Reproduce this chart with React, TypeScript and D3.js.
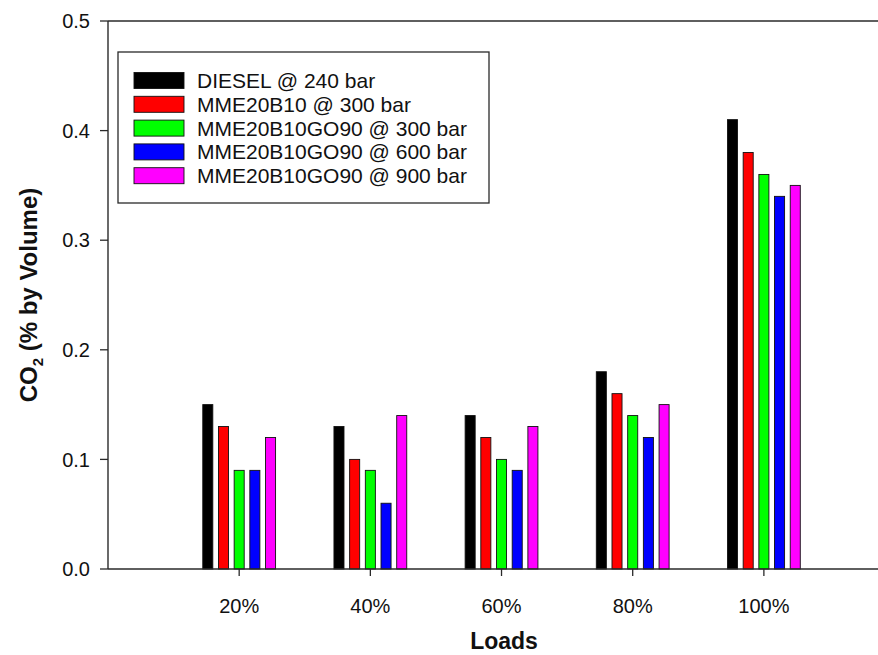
import React from "react";
import * as d3 from "d3";

const categories = ["20%", "40%", "60%", "80%", "100%"];
const seriesNames = [
  "DIESEL @ 240 bar",
  "MME20B10 @ 300 bar",
  "MME20B10GO90 @ 300 bar",
  "MME20B10GO90 @ 600 bar",
  "MME20B10GO90 @ 900 bar",
];
const seriesColors = ["#000000", "#ff0000", "#00ff00", "#0000ff", "#ff00ff"];
const diesel240 = [0.15, 0.13, 0.14, 0.18, 0.41];
const mme300 = [0.13, 0.1, 0.12, 0.16, 0.38];
const go90_300 = [0.09, 0.09, 0.1, 0.14, 0.36];
const go90_600 = [0.09, 0.06, 0.09, 0.12, 0.34];
const go90_900 = [0.12, 0.14, 0.13, 0.15, 0.35];
const seriesValues = [diesel240, mme300, go90_300, go90_600, go90_900];
const yTicks = [0, 0.1, 0.2, 0.3, 0.4, 0.5];

const W = 878;
const H = 655;
const font = "'Liberation Sans', Arial, sans-serif";

export default function App() {
  const x = d3.scaleLinear().domain([0, 5.87]).range([108, 878]);
  const y = d3.scaleLinear().domain([0, 0.5]).range([569, 21]);
  const inner = d3
    .scaleBand<number>()
    .domain(d3.range(seriesNames.length))
    .range([-36.4, 36.4])
    .paddingInner(0.36)
    .paddingOuter(0);
  const axisColor = "#2a2a2a";

  return (
    <svg
      width={W}
      height={H}
      style={{ position: "absolute", left: 0, top: 0, background: "#fff" }}
      fontFamily={font}
    >
      {/* bars */}
      {categories.map((c, ci) =>
        seriesValues.map((vals, si) => (
          <rect
            key={c + si}
            x={x(ci + 1) + (inner(si) as number)}
            y={y(vals[ci])}
            width={inner.bandwidth()}
            height={y(0) - y(vals[ci])}
            fill={seriesColors[si]}
            stroke="#111"
            strokeWidth={0.9}
          />
        ))
      )}
      {/* frame */}
      <line x1={108} x2={878} y1={y(0)} y2={y(0)} stroke={axisColor} strokeWidth={1.4} />
      <line x1={108} x2={878} y1={y(0.5)} y2={y(0.5)} stroke={axisColor} strokeWidth={1.6} />
      <line x1={108} x2={108} y1={y(0.5)} y2={y(0)} stroke={axisColor} strokeWidth={1.4} />
      {/* y ticks */}
      {yTicks.map((t) => (
        <g key={t}>
          <line x1={100} x2={108} y1={y(t)} y2={y(t)} stroke={axisColor} strokeWidth={1.3} />
          <text
            x={90}
            y={y(t)}
            dy="0.36em"
            textAnchor="end"
            fontSize={20}
            fill="#111"
          >
            {t.toFixed(1)}
          </text>
        </g>
      ))}
      {/* x ticks */}
      {categories.map((c, ci) => (
        <g key={c}>
          <line
            x1={x(ci + 1)}
            x2={x(ci + 1)}
            y1={y(0)}
            y2={y(0) + 7}
            stroke={axisColor}
            strokeWidth={1.3}
          />
          <text x={x(ci + 1)} y={613} textAnchor="middle" fontSize={20} fill="#111">
            {c}
          </text>
        </g>
      ))}
      {/* axis titles */}
      <text x={504} y={649} textAnchor="middle" fontSize={23} fontWeight="bold" fill="#111">
        Loads
      </text>
      <text
        transform="translate(37,295) rotate(-90)"
        textAnchor="middle"
        fontSize={24}
        fontWeight="bold"
        fill="#111"
      >
        CO
        <tspan fontSize={15} dy={6}>2</tspan>
        <tspan dy={-6}> (% by Volume)</tspan>
      </text>
      {/* legend */}
      <rect x={118} y={52} width={371} height={151} fill="#fff" stroke={axisColor} strokeWidth={1.3} />
      {seriesNames.map((n, i) => (
        <g key={n}>
          <rect
            x={134}
            y={72.5 + i * 23.8}
            width={50}
            height={16}
            fill={seriesColors[i]}
            stroke="#111"
            strokeWidth={0.9}
          />
          <text x={197} y={80.5 + i * 23.8} dy="0.36em" fontSize={21} fill="#111">
            {n}
          </text>
        </g>
      ))}
    </svg>
  );
}
